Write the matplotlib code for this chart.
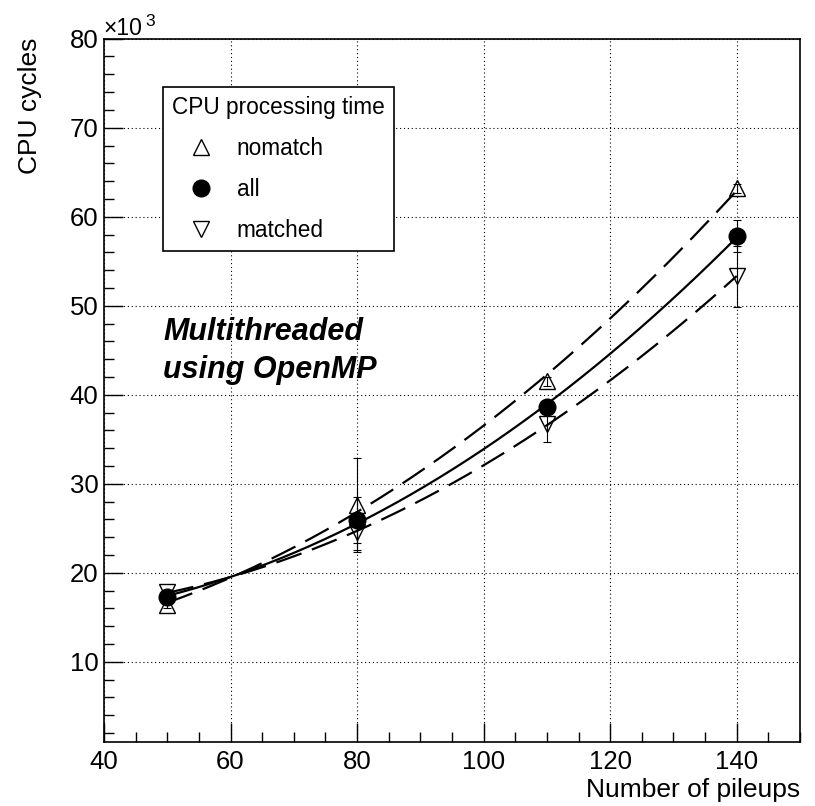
import numpy as np
import matplotlib.pyplot as plt
from matplotlib.lines import Line2D
from matplotlib.ticker import MultipleLocator

plt.rcParams['font.family'] = ['Liberation Sans', 'DejaVu Sans']

# pileup points and CPU cycles (in units of 10^3)
pileups = [50, 80, 110, 140]

cycles_nomatch = [16.4, 27.6, 41.5, 63.2]
err_nomatch = [0.4, 5.3, 0.5, 0.5]

cycles_all = [17.3, 25.9, 38.6, 57.8]
err_all = [0.3, 2.6, 0.8, 1.8]

cycles_matched = [17.8, 24.6, 36.7, 53.3]
err_matched = [0.3, 2.0, 2.0, 3.4]

fig = plt.figure(figsize=(8.15, 8.06), dpi=100)
ax = fig.add_axes([0.1276, 0.0794, 0.8540, 0.8726])

ax.set_xlim(40, 150)
ax.set_ylim(1, 80)
ax.xaxis.set_major_locator(MultipleLocator(20))
ax.xaxis.set_minor_locator(MultipleLocator(5))
ax.yaxis.set_major_locator(MultipleLocator(10))
ax.yaxis.set_minor_locator(MultipleLocator(2))
ax.tick_params(which='both', direction='in', top=False, right=False,
               labelsize=18.5, width=1)
ax.tick_params(axis='x', which='major', length=14, pad=6)
ax.tick_params(axis='y', which='major', length=14, pad=4)
ax.tick_params(which='minor', length=7)
for s in ax.spines.values():
    s.set_linewidth(1.2)

ax.grid(True, which='major', color='black', lw=0.8, ls=(0, (1, 2.5)))
ax.set_axisbelow(True)

# quadratic fits through each series
xfit = np.linspace(50, 140, 200)
series = [
    (cycles_nomatch, err_nomatch, '^', 'none', (12, 5)),
    (cycles_all, err_all, 'o', 'black', None),
    (cycles_matched, err_matched, 'v', 'none', (12, 5)),
]
for y, e, m, fc, dash in series:
    coef = np.polyfit(pileups, y, 2)
    line, = ax.plot(xfit, np.polyval(coef, xfit), color='black', lw=1.6, zorder=2)
    if dash:
        line.set_dashes(dash)
    ax.errorbar(pileups, y, yerr=e, fmt='none', ecolor='black',
                elinewidth=0.8, capsize=3, capthick=0.8, zorder=3)
    ax.plot(pileups, y, ls='none', marker=m, ms=12, mfc=fc, mec='black',
            mew=1, zorder=4)

handles = [
    Line2D([], [], ls='none', marker='^', ms=12, mfc='none', mec='black', mew=1),
    Line2D([], [], ls='none', marker='o', ms=12, mfc='black', mec='black', mew=1),
    Line2D([], [], ls='none', marker='v', ms=12, mfc='none', mec='black', mew=1),
]
leg = ax.legend(handles, ['nomatch', 'all', 'matched'], title='CPU processing time',
                loc='upper left', bbox_to_anchor=(163 / 815, 1 - 87 / 806),
                bbox_transform=fig.transFigure, borderaxespad=0,
                fontsize=16.3, title_fontsize=16.3, alignment='left',
                fancybox=False, framealpha=1, edgecolor='black',
                borderpad=0.4, labelspacing=0.8, handlelength=2.55,
                handletextpad=0.3)
leg.get_frame().set_linewidth(1.2)

fig.text(163 / 815, 1 - 340 / 806, 'Multithreaded', fontsize=22,
         fontweight='bold', fontstyle='italic', ha='left', va='baseline')
fig.text(163 / 815, 1 - 378 / 806, 'using OpenMP', fontsize=22,
         fontweight='bold', fontstyle='italic', ha='left', va='baseline')

fig.text(800 / 815, 1 - 797 / 806, 'Number of pileups', fontsize=19,
         ha='right', va='baseline')
fig.text(30 / 815, 1 - 38 / 806, 'CPU cycles', fontsize=19, rotation=90,
         ha='center', va='top')
# axis multiplier above the y axis
fig.text(103 / 815, 1 - 35 / 806, '×10', fontsize=16.5, ha='left', va='baseline')
fig.text(145 / 815, 1 - 26 / 806, '3', fontsize=12.5, ha='left', va='baseline')

fig.savefig('out.png', dpi=100)
